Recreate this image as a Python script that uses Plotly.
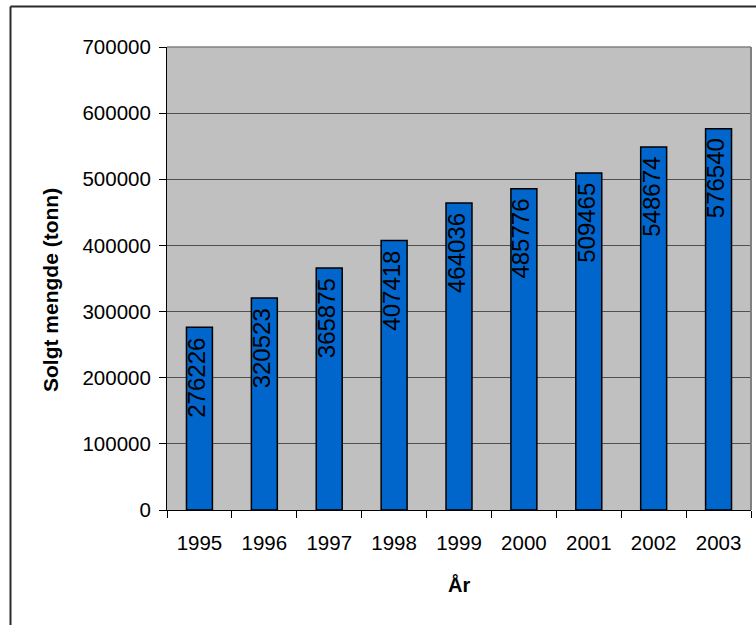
import plotly.graph_objects as go

# Sold quantity per year (tonnes)
years = ["1995", "1996", "1997", "1998", "1999", "2000", "2001", "2002", "2003"]
tonnes = [276226, 320523, 365875, 407418, 464036, 485776, 509465, 548674, 576540]
y_ticks = [0, 100000, 200000, 300000, 400000, 500000, 600000, 700000]

FONT = "Arial, Liberation Sans, sans-serif"
W, H = 756, 625
L, R, T, B = 167, 5, 47, 115
pw, ph = W - L - R, H - T - B


def px_x(px):
    return (px - L) / pw


def px_y(py):
    return (H - B - py) / ph


fig = go.Figure(
    go.Bar(
        x=years,
        y=tonnes,
        marker=dict(color="#0066cc", line=dict(color="black", width=1.5)),
        hoverinfo="x+y",
    )
)

# value labels written vertically just inside the top of each bar
# (category axis positions are given by index)
annotations = [
    dict(
        x=i, y=val, xref="x", yref="y", text=str(val), showarrow=False,
        textangle=-90, yanchor="top", xanchor="center", yshift=-8, xshift=-3,
        font=dict(family=FONT, size=24, color="black"),
    )
    for i, val in enumerate(tonnes)
]

annotations += [
    dict(x=px_x(50), y=px_y(290), xref="paper", yref="paper",
         text="<b>Solgt mengde (tonn)</b>", textangle=-90, showarrow=False,
         xanchor="center", yanchor="middle",
         font=dict(family=FONT, size=21, color="black")),
    dict(x=0.5, y=px_y(584), xref="paper", yref="paper",
         text="<b>År</b>", showarrow=False, xanchor="center", yanchor="middle",
         font=dict(family=FONT, size=20, color="black")),
]

shapes = [
    # chart frame (top and left edges)
    dict(type="line", xref="paper", yref="paper",
         x0=px_x(10.5), x1=px_x(W + 10), y0=px_y(6.5), y1=px_y(6.5),
         line=dict(color="#2a2a2a", width=2)),
    dict(type="line", xref="paper", yref="paper",
         x0=px_x(10.5), x1=px_x(10.5), y0=px_y(6.5), y1=px_y(H + 10),
         line=dict(color="#2a2a2a", width=2)),
    # plot area border (top and right)
    dict(type="line", xref="paper", yref="paper", x0=0, x1=1, y0=1, y1=1,
         line=dict(color="#808080", width=1.5)),
    dict(type="line", xref="paper", yref="paper", x0=1, x1=1, y0=0, y1=1,
         line=dict(color="#808080", width=2)),
]

fig.update_layout(
    width=W, height=H,
    margin=dict(l=L, r=R, t=T, b=B, pad=0),
    paper_bgcolor="white",
    plot_bgcolor="#c0c0c0",
    bargap=0.6,
    showlegend=False,
    font=dict(family=FONT, size=20, color="black"),
    annotations=annotations,
    shapes=shapes,
)

fig.update_xaxes(
    type="category",
    range=[-0.5, len(years) - 0.5],
    showline=True, linecolor="black", linewidth=1,
    ticks="outside", tickson="boundaries", ticklen=7, tickcolor="black",
    tickfont=dict(family=FONT, size=20.5, color="black"),
    ticklabelstandoff=14,
    showgrid=False,
)

fig.update_yaxes(
    range=[0, 700000],
    tickvals=y_ticks,
    ticktext=[str(v) for v in y_ticks],
    showline=True, linecolor="black", linewidth=1,
    ticks="outside", ticklen=7, tickcolor="black",
    tickfont=dict(family=FONT, size=20.5, color="black"),
    showgrid=True, gridcolor="#505050", gridwidth=1,
    zeroline=False,
    ticklabelstandoff=4,
)

fig.write_html("out.html")
